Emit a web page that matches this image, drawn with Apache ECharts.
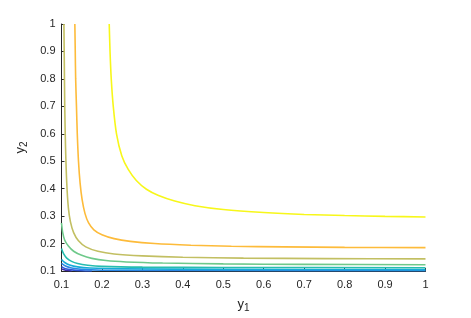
<!DOCTYPE html>
<html>
<head>
<meta charset="utf-8">
<script src="https://cdn.jsdelivr.net/npm/echarts@6/dist/echarts.min.js"></script>
<style>html,body{margin:0;padding:0;background:#fff}#c{width:471px;height:318px}</style>
</head>
<body>
<div id="c"></div>
<script>
var xTicks = [0.1,0.2,0.3,0.4,0.5,0.6,0.7,0.8,0.9,1];
var yTicks = [0.1,0.2,0.3,0.4,0.5,0.6,0.7,0.8,0.9,1];

var yellow = [[0.218,1],[0.220,0.90],[0.223,0.80],[0.228,0.70],[0.236,0.60],[0.249,0.52],[0.265,0.47],[0.285,0.43],[0.31,0.398],[0.34,0.375],[0.38,0.355],[0.43,0.338],[0.50,0.324],[0.60,0.313],[0.70,0.306],[0.80,0.302],[0.90,0.299],[1.0,0.297]];
var orange = [[0.133,1],[0.134,0.9],[0.135,0.8],[0.137,0.7],[0.139,0.6],[0.142,0.5],[0.146,0.42],[0.151,0.36],[0.158,0.31],[0.167,0.275],[0.18,0.250],[0.20,0.232],[0.23,0.218],[0.27,0.208],[0.33,0.200],[0.42,0.194],[0.52,0.190],[0.65,0.188],[0.80,0.186],[1.0,0.185]];
var olive = [[0.106,1],[0.107,0.85],[0.108,0.7],[0.110,0.55],[0.113,0.42],[0.117,0.33],[0.122,0.28],[0.130,0.24],[0.142,0.210],[0.16,0.188],[0.19,0.172],[0.23,0.162],[0.30,0.155],[0.40,0.150],[0.55,0.147],[0.75,0.145],[1.0,0.144]];
var green = [[0.1,0.275],[0.103,0.24],[0.108,0.212],[0.117,0.191],[0.13,0.172],[0.15,0.157],[0.175,0.146],[0.21,0.138],[0.26,0.133],[0.35,0.129],[0.5,0.126],[0.7,0.124],[1.0,0.123]];
var teal = [[0.1,0.182],[0.105,0.163],[0.113,0.147],[0.125,0.135],[0.14,0.127],[0.165,0.121],[0.2,0.117],[0.3,0.114],[0.5,0.113],[1.0,0.112]];
var cyan = [[0.1,0.142],[0.108,0.131],[0.12,0.122],[0.14,0.115],[0.17,0.111],[0.25,0.108],[0.5,0.106],[1.0,0.105]];
var blue = [[0.1,0.128],[0.11,0.118],[0.125,0.111],[0.15,0.106],[0.2,0.103],[0.4,0.102],[1.0,0.101]];
var darkBlue = [[0.1,0.116],[0.11,0.108],[0.125,0.104],[0.15,0.101],[0.175,0.1]];
var purple = [[0.1,0.107],[0.11,0.103],[0.125,0.1]];

var levels = [
  {name:'purple', data:purple, color:'#3d2aa6'},
  {name:'darkBlue', data:darkBlue, color:'#2f55d8'},
  {name:'blue', data:blue, color:'#2a86e6'},
  {name:'cyan', data:cyan, color:'#16abd8'},
  {name:'teal', data:teal, color:'#26bdb0'},
  {name:'green', data:green, color:'#6ec98a'},
  {name:'olive', data:olive, color:'#c2bf62'},
  {name:'orange', data:orange, color:'#fdbb3a'},
  {name:'yellow', data:yellow, color:'#f7f71a'}
];

var chart = echarts.init(document.getElementById('c'));
var txt = '#262626';
chart.setOption({
  animation:false,
  grid:{left:61.5, right:45.5, top:24, bottom:45.3},
  xAxis:{
    type:'value', min:0.1, max:1, interval:0.1,
    name:'y{s|1}', nameLocation:'middle', nameGap:24,
    nameTextStyle:{color:txt, fontSize:13, fontFamily:'Liberation Sans', rich:{s:{fontSize:10, verticalAlign:'bottom', padding:[8,0,0,0], color:txt}}},
    axisLine:{lineStyle:{color:'#262626', width:1}},
    axisTick:{inside:true, length:3, lineStyle:{color:'#262626'}},
    axisLabel:{color:txt, fontSize:11, fontFamily:'Liberation Sans', margin:8},
    splitLine:{show:false}
  },
  yAxis:{
    type:'value', min:0.1, max:1, interval:0.1,
    name:'y{s|2}', nameLocation:'middle', nameGap:32, nameRotate:90,
    nameTextStyle:{color:txt, fontSize:13, fontFamily:'Liberation Sans', rich:{s:{fontSize:10, verticalAlign:'bottom', padding:[8,0,0,0], color:txt}}},
    axisLine:{show:true, lineStyle:{color:'#262626', width:1}},
    axisTick:{show:true, inside:true, length:3, lineStyle:{color:'#262626'}},
    axisLabel:{color:txt, fontSize:11, fontFamily:'Liberation Sans', margin:6},
    splitLine:{show:false}
  },
  series: levels.map(function(l){
    return {type:'line', name:l.name, data:l.data, showSymbol:false, symbol:'none',
      smooth:0.25, clip:true,
      lineStyle:{color:l.color, width:1.6}};
  })
});
</script>
</body>
</html>
